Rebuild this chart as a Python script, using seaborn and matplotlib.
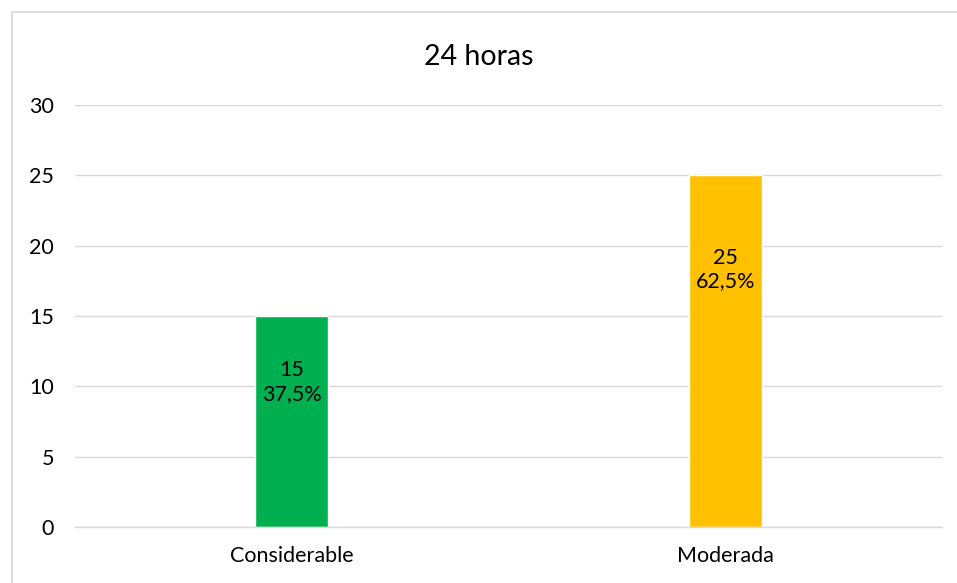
import matplotlib
matplotlib.use("Agg")
import matplotlib.pyplot as plt
import seaborn as sns
import pandas as pd
from matplotlib.patches import Rectangle

categories = ["Considerable", "Moderada"]
values = [15, 25]
percents = ["37,5%", "62,5%"]
colors = ["#00B050", "#FFC000"]
title = "24 horas"
yticks = [0, 5, 10, 15, 20, 25, 30]

sns.set_theme(style="white")
plt.rcParams["font.family"] = ["Lato", "DejaVu Sans"]

df = pd.DataFrame({"cat": categories, "val": values})

fig = plt.figure(figsize=(9.57, 5.83), dpi=100)
ax = fig.add_axes([0.0784, 0.0961, 0.9059, 0.7238])
sns.barplot(data=df, x="cat", y="val", hue="cat", palette=colors, legend=False,
            width=0.169, ax=ax, saturation=1)

ax.set_xlim(-0.5, 1.5)
ax.set_ylim(0, 30)
ax.set_yticks(yticks)
ax.yaxis.grid(True, color="#d9d9d9", linewidth=1)
ax.set_axisbelow(True)
for s in ["top", "right", "left"]:
    ax.spines[s].set_visible(False)
ax.spines["bottom"].set_color("#d9d9d9")
ax.spines["bottom"].set_linewidth(1)
ax.tick_params(axis="both", length=0, labelsize=15.5, colors="#000000")
ax.tick_params(axis="y", pad=15)
ax.tick_params(axis="x", pad=14)
ax.set_xlabel("")
ax.set_ylabel("")

# label positions (data units)
label_y = [10.3, 18.3]
for i, (v, p) in enumerate(zip(values, percents)):
    ax.text(i, label_y[i], f"{v}\n{p}", ha="center", va="center",
            fontsize=15.5, color="black", linespacing=1.2)

fig.text(0.5, 0.902, title, ha="center", va="center", fontsize=20.5, color="black")

fig.patches.append(Rectangle((12/957, -0.1), 2, 1 - 12/583 + 0.1,
                             transform=fig.transFigure, fill=False,
                             edgecolor="#d9d9d9", linewidth=1.2))

fig.savefig("out.png", dpi=100)
